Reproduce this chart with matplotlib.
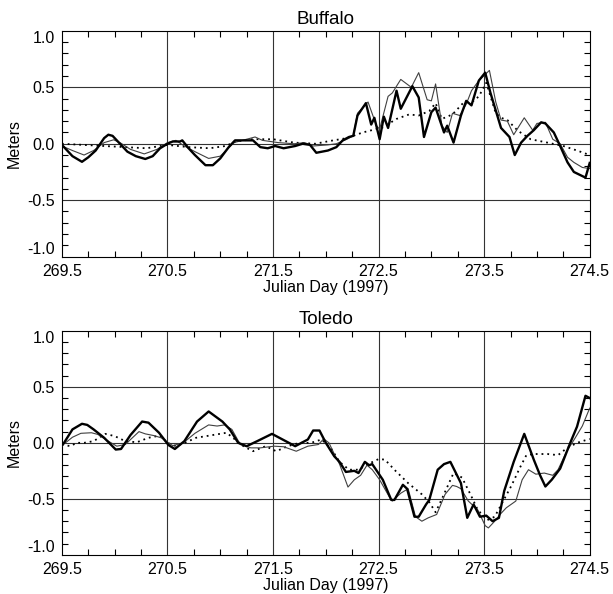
import numpy as np
import matplotlib
matplotlib.use('Agg')
import matplotlib.pyplot as plt
from matplotlib.ticker import MultipleLocator

plt.rcParams['font.family'] = ['Liberation Sans', 'DejaVu Sans']

# Buffalo: observed (thick), model 1 (thin), model 2 (dotted)
buf_obs_day = [269.50, 269.55, 269.60, 269.69, 269.75, 269.82, 269.90, 269.94, 269.98, 270.05,
               270.12, 270.20, 270.29, 270.36, 270.43, 270.50, 270.55, 270.62, 270.64, 270.70,
               270.76, 270.86, 270.93, 271.00, 271.08, 271.14, 271.22, 271.31, 271.38, 271.45,
               271.52, 271.60, 271.71, 271.78, 271.85, 271.91, 272.02, 272.10, 272.16, 272.22,
               272.26, 272.30, 272.38, 272.43, 272.46, 272.51, 272.55, 272.59, 272.67, 272.71,
               272.82, 272.88, 272.93, 273.00, 273.04, 273.12, 273.15, 273.21, 273.28, 273.33,
               273.38, 273.45, 273.51, 273.56, 273.66, 273.74, 273.79, 273.85, 273.91, 273.97,
               274.04, 274.08, 274.16, 274.22, 274.29, 274.35, 274.46, 274.50]
buf_obs = [-0.01, -0.06, -0.11, -0.16, -0.12, -0.06, 0.05, 0.08, 0.07, 0.00,
           -0.07, -0.11, -0.135, -0.11, -0.04, 0.00, 0.02, 0.02, 0.03, -0.04,
           -0.10, -0.19, -0.19, -0.13, -0.03, 0.03, 0.03, 0.03, -0.03, -0.04,
           -0.02, -0.04, -0.02, 0.00, -0.01, -0.08, -0.06, -0.03, 0.03, 0.06,
           0.07, 0.25, 0.36, 0.17, 0.23, 0.04, 0.24, 0.14, 0.47, 0.31,
           0.51, 0.41, 0.06, 0.28, 0.32, 0.10, 0.16, 0.01, 0.25, 0.38,
           0.34, 0.56, 0.63, 0.45, 0.14, 0.06, -0.10, 0.01, 0.07, 0.12,
           0.19, 0.18, 0.10, -0.02, -0.165, -0.25, -0.30, -0.17]

buf_m1_day = [269.50, 269.60, 269.71, 269.80, 269.90, 269.99, 270.05, 270.15, 270.28, 270.40,
              270.50, 270.58, 270.66, 270.76, 270.89, 271.00, 271.13, 271.25, 271.33, 271.40,
              271.55, 271.70, 271.80, 271.88, 272.02, 272.10, 272.20, 272.26, 272.30, 272.40,
              272.48, 272.51, 272.59, 272.63, 272.71, 272.81, 272.88, 272.96, 273.00, 273.04,
              273.10, 273.15, 273.20, 273.27, 273.33, 273.38, 273.45, 273.55, 273.61, 273.66,
              273.72, 273.78, 273.88, 273.96, 274.00, 274.08, 274.15, 274.22, 274.29, 274.35,
              274.43, 274.50]
buf_m1 = [-0.02, -0.06, -0.10, -0.06, 0.01, 0.035, 0.01, -0.05, -0.09, -0.05,
          0.01, 0.03, -0.02, -0.07, -0.13, -0.11, 0.01, 0.04, 0.06, 0.03,
          0.01, 0.00, 0.01, -0.02, -0.01, 0.00, 0.04, 0.07, 0.27, 0.37,
          0.16, 0.13, 0.42, 0.45, 0.57, 0.50, 0.63, 0.39, 0.38, 0.53,
          0.16, 0.10, 0.27, 0.25, 0.35, 0.47, 0.56, 0.65, 0.37, 0.21,
          0.20, 0.08, 0.23, 0.12, 0.18, 0.19, 0.04, 0.00, -0.12, -0.165,
          -0.21, -0.22]

buf_m2_day = [269.50, 269.70, 269.90, 270.10, 270.30, 270.50, 270.70, 270.90, 271.05, 271.15,
              271.30, 271.50, 271.70, 271.90, 272.04, 272.20, 272.35, 272.54, 272.67, 272.79,
              272.88, 272.98, 273.04, 273.10, 273.20, 273.30, 273.40, 273.45, 273.52, 273.61,
              273.66, 273.72, 273.82, 273.94, 274.10, 274.25, 274.38, 274.50]
buf_m2 = [0.00, -0.01, -0.02, -0.03, -0.04, -0.01, -0.03, -0.04, -0.02, 0.02,
          0.04, 0.04, 0.01, 0.00, 0.025, 0.05, 0.10, 0.145, 0.22, 0.26,
          0.25, 0.29, 0.36, 0.22, 0.26, 0.36, 0.38, 0.42, 0.54, 0.27,
          0.23, 0.21, 0.115, 0.04, 0.01, -0.02, -0.06, -0.10]

# Toledo
tol_obs_day = [269.50, 269.52, 269.60, 269.69, 269.74, 269.80, 269.90, 270.01, 270.06, 270.15,
               270.26, 270.32, 270.42, 270.51, 270.57, 270.66, 270.78, 270.89, 271.02, 271.09,
               271.17, 271.25, 271.35, 271.49, 271.59, 271.71, 271.83, 271.88, 271.94, 272.00,
               272.08, 272.13, 272.19, 272.27, 272.31, 272.37, 272.41, 272.44, 272.54, 272.62,
               272.65, 272.73, 272.77, 272.84, 272.88, 272.95, 272.98, 273.06, 273.12, 273.18,
               273.28, 273.34, 273.40, 273.46, 273.52, 273.58, 273.64, 273.69, 273.78, 273.88,
               273.97, 274.03, 274.08, 274.14, 274.22, 274.32, 274.38, 274.46, 274.50]
tol_obs = [-0.02, 0.00, 0.12, 0.17, 0.16, 0.12, 0.045, -0.06, -0.055, 0.07,
           0.19, 0.18, 0.09, -0.02, -0.055, 0.015, 0.19, 0.28, 0.19, 0.12,
           0.00, -0.03, 0.015, 0.08, 0.03, -0.03, 0.03, 0.11, 0.11, 0.00,
           -0.12, -0.17, -0.26, -0.25, -0.27, -0.17, -0.20, -0.19, -0.33, -0.51,
           -0.51, -0.375, -0.41, -0.66, -0.66, -0.55, -0.51, -0.24, -0.19, -0.17,
           -0.36, -0.67, -0.55, -0.66, -0.65, -0.70, -0.67, -0.43, -0.17, 0.08,
           -0.15, -0.29, -0.39, -0.33, -0.23, 0.01, 0.145, 0.42, 0.40]

tol_m1_day = [269.50, 269.52, 269.60, 269.68, 269.78, 269.84, 269.94, 270.02, 270.10, 270.23,
              270.29, 270.37, 270.44, 270.51, 270.55, 270.65, 270.76, 270.89, 270.97, 271.04,
              271.11, 271.19, 271.29, 271.38, 271.51, 271.60, 271.72, 271.83, 271.93, 271.98,
              272.03, 272.08, 272.13, 272.21, 272.27, 272.33, 272.39, 272.44, 272.51, 272.60,
              272.63, 272.71, 272.78, 272.85, 272.91, 272.97, 273.05, 273.13, 273.20, 273.24,
              273.28, 273.35, 273.44, 273.51, 273.54, 273.60, 273.66, 273.71, 273.80, 273.86,
              273.92, 273.99, 274.07, 274.15, 274.20, 274.28, 274.36, 274.43, 274.50]
tol_m1 = [-0.03, -0.01, 0.05, 0.085, 0.09, 0.075, 0.015, -0.03, -0.015, 0.10,
          0.08, 0.065, 0.045, 0.00, -0.025, 0.00, 0.085, 0.16, 0.15, 0.16,
          0.12, -0.015, -0.045, -0.045, -0.03, -0.035, -0.075, -0.03, -0.015, 0.035,
          0.00, -0.10, -0.19, -0.395, -0.33, -0.29, -0.20, -0.24, -0.33, -0.48,
          -0.52, -0.45, -0.41, -0.66, -0.70, -0.67, -0.64, -0.46, -0.38, -0.39,
          -0.41, -0.52, -0.60, -0.74, -0.76, -0.70, -0.63, -0.58, -0.52, -0.33,
          -0.24, -0.28, -0.27, -0.29, -0.24, -0.08, 0.04, 0.15, 0.31]

tol_m2_day = [269.50, 269.58, 269.64, 269.71, 269.80, 269.91, 270.00, 270.10, 270.21, 270.32,
              270.43, 270.50, 270.58, 270.70, 270.77, 270.90, 271.06, 271.14, 271.22, 271.31,
              271.43, 271.53, 271.64, 271.75, 271.86, 271.96, 272.05, 272.13, 272.22, 272.31,
              272.40, 272.50, 272.56, 272.66, 272.78, 272.91, 272.98, 273.04, 273.10, 273.21,
              273.29, 273.37, 273.44, 273.53, 273.60, 273.68, 273.76, 273.84, 273.90, 273.97,
              274.10, 274.20, 274.28, 274.38, 274.50]
tol_m2 = [-0.015, -0.03, 0.00, 0.00, 0.015, 0.08, 0.06, 0.015, 0.005, 0.045,
          0.065, 0.00, -0.03, 0.015, 0.045, 0.065, 0.09, 0.03, -0.03, -0.075,
          -0.03, -0.075, -0.03, 0.00, 0.00, 0.03, -0.05, -0.17, -0.24, -0.24,
          -0.19, -0.145, -0.15, -0.25, -0.36, -0.46, -0.53, -0.62, -0.50, -0.27,
          -0.31, -0.46, -0.60, -0.69, -0.66, -0.52, -0.38, -0.22, -0.11, -0.10,
          -0.10, -0.11, -0.05, 0.00, 0.035]

x_ticks = [269.5, 270.5, 271.5, 272.5, 273.5, 274.5]
y_ticks = [-1.0, -0.5, 0.0, 0.5, 1.0]

panels = [
    ('Buffalo', [0.101, 0.568, 0.861, 0.380],
     (buf_obs_day, buf_obs), (buf_m1_day, buf_m1), (buf_m2_day, buf_m2)),
    ('Toledo', [0.101, 0.066, 0.861, 0.377],
     (tol_obs_day, tol_obs), (tol_m1_day, tol_m1), (tol_m2_day, tol_m2)),
]

fig = plt.figure(figsize=(6.13, 5.94), dpi=100)

for title, rect, obs, m1, m2 in panels:
    ax = fig.add_axes(rect)
    # grid at major ticks
    for xv in x_ticks[1:-1]:
        ax.axvline(xv, color='0.2', lw=0.8, zorder=1)
    for yv in y_ticks[1:-1]:
        ax.axhline(yv, color='0.2', lw=0.8, zorder=1)

    ax.plot(m2[0], m2[1], color='black', lw=1.3, linestyle=(0, (1, 2.2)), zorder=2)
    ax.plot(m1[0], m1[1], color='0.25', lw=0.8, zorder=3)
    ax.plot(obs[0], obs[1], color='black', lw=1.7, zorder=4)

    ax.set_xlim(269.5, 274.5)
    ax.set_ylim(-1.0, 1.0)
    ax.set_xticks(x_ticks)
    ax.set_xticklabels([f'{v:.1f}' for v in x_ticks])
    ax.set_yticks(y_ticks)
    ax.set_yticklabels([f'{v:.1f}' for v in y_ticks])
    ax.xaxis.set_minor_locator(MultipleLocator(0.25))
    ax.yaxis.set_minor_locator(MultipleLocator(0.1))
    ax.tick_params(which='both', direction='in', top=True, right=True,
                   labelsize=11.5, width=0.8, colors='black')
    ax.tick_params(which='major', length=0, pad=5)
    ax.tick_params(which='minor', length=4)
    labels = ax.get_yticklabels()
    labels[0].set_va('bottom')
    labels[-1].set_va('top')
    for sp in ax.spines.values():
        sp.set_linewidth(0.8)

    ax.set_title(title, fontsize=13.5, pad=5)
    ax.set_xlabel('Julian Day (1997)', fontsize=11.5, labelpad=1)
    ax.set_ylabel('Meters', fontsize=11.5, labelpad=4)

fig.savefig('out.png', dpi=100)
